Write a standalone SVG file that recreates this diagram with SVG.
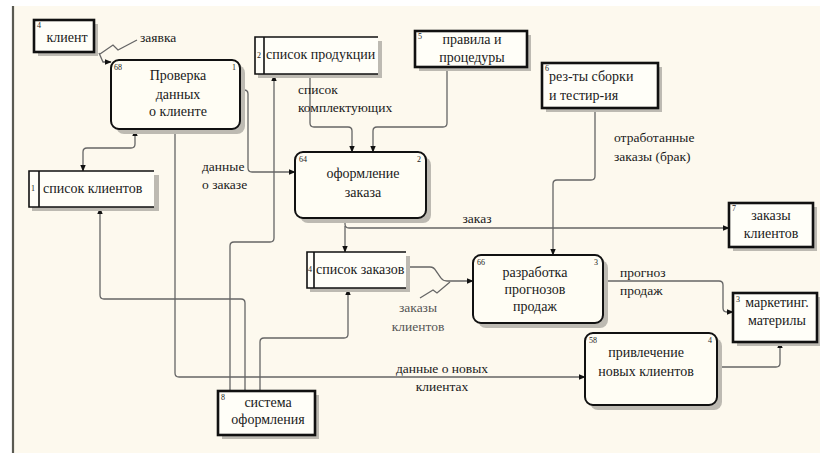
<svg xmlns="http://www.w3.org/2000/svg" width="820" height="453" viewBox="0 0 820 453">
<defs>
<marker id="ah" viewBox="0 0 10 10" refX="9" refY="5" markerWidth="7" markerHeight="7" orient="auto-start-reverse" markerUnits="userSpaceOnUse">
<path d="M0,1 L10,5 L0,9 Z" fill="#111"/>
</marker>
</defs>
<style>
.t{font-size:14px}
.c{text-anchor:middle}
.s{font-size:8px}
.lbl{font-size:13.5px}
.ext{fill:#fffef8;stroke:#111;stroke-width:2.6}
.proc{fill:#fffdf4;stroke:#111;stroke-width:2}
.sh{fill:#bdbab2}
.st{stroke:#111;stroke-width:1.6;fill:none}
.conn path{fill:none;stroke:#666;stroke-width:1.3}
.conn .a{marker-end:url(#ah)}
</style>
<rect x="0" y="0" width="820" height="453" fill="#fdf9ee"/>
<rect x="0" y="0" width="820" height="6" fill="#ffffff"/>
<rect x="0" y="0" width="12" height="453" fill="#ffffff"/>
<line x1="13" y1="6" x2="13" y2="453" stroke="#5a5a52" stroke-width="2.2"/>

<g class="conn" id="connectors">
<path d="M100,54 L113,45 L118,50 L137,40"/>
<path class="a" d="M99,53 L103,62 L111,62"/>
<path class="a" style="marker-start:url(#ah)" d="M135,130 L135,144 Q135,148 131,148 L87,148 Q83,148 83,152 L83,171"/>
<path class="a" d="M175,129 L175,373 Q175,377 179,377 L585,377"/>
<path class="a" d="M240,90 L244,90 Q248,90 248,94 L248,168 Q248,172 252,172 L295,172"/>
<path class="a" d="M245,391 L245,303 Q245,299 241,299 L104,299 Q100,299 100,295 L100,208"/>
<path class="a" d="M230,391 L230,246 Q230,242 234,242 L270,242 Q274,242 274,238 L274,75"/>
<path class="a" d="M260,391 L260,342 Q260,338 264,338 L344,338 Q348,338 348,334 L348,289"/>
<path class="a" d="M310,74 L310,123 Q310,127 314,127 L348,127 Q352,127 352,131 L352,152"/>
<path class="a" d="M447,67 L447,123 Q447,127 443,127 L377,127 Q373,127 373,131 L373,152"/>
<path class="a" d="M345,218 L345,224 Q345,228 349,228 L729,228"/>
<path class="a" d="M345,226 L345,252"/>
<path class="a" d="M595,108 L595,176 Q595,180 591,180 L557,180 Q553,180 553,184 L553,255"/>
<path class="a" d="M406,267 L430,267 Q434,267 436,271 L441,278 Q443,281 447,281 L473,281"/>
<path d="M420,298 L433,290 L437,293 L450,282"/>
<path class="a" d="M603,281 L719,281 Q723,281 723,285 L723,308 Q723,312 727,312 L733,312"/>
<path class="a" d="M717,367 L776,367 Q780,367 780,363 L780,342"/>
</g>

<g font-family="Liberation Serif, Times New Roman, serif" fill="#1a1a1a">
<g id="lbl-zayavka"><text class="lbl" x="140" y="42">заявка</text></g>
<g id="lbl-komplekt"><text class="lbl" x="298" y="94">список</text><text class="lbl" x="298" y="112">комплектующих</text></g>
<g id="lbl-dannye-zakaz"><text class="lbl" x="202" y="171">данные</text><text class="lbl" x="202" y="189">о заказе</text></g>
<g id="lbl-zakaz"><text class="lbl c" x="477" y="223">заказ</text></g>
<g id="lbl-brak"><text class="lbl" x="614" y="142">отработанные</text><text class="lbl" x="614" y="161">заказы (брак)</text></g>
<g id="lbl-zakazy-kl" fill="#555"><text class="lbl c" x="418" y="312">заказы</text><text class="lbl c" x="418" y="331">клиентов</text></g>
<g id="lbl-prognoz"><text class="lbl" x="620" y="277">прогноз</text><text class="lbl" x="620" y="295">продаж</text></g>
<g id="lbl-novye"><text class="lbl c" x="442" y="373">данные о новых</text><text class="lbl c" x="442" y="391">клиентах</text></g>

<g id="klient">
<rect class="sh" x="38" y="24" width="60" height="32"/>
<rect class="ext" x="34" y="20" width="60" height="32"/>
<text class="s" x="37" y="28">4</text>
<text class="t c" x="67" y="42">клиент</text>
</g>

<g id="proverka">
<rect class="sh" x="116" y="65" width="129" height="69" rx="8"/>
<rect class="proc" x="111" y="60" width="129" height="69" rx="8"/>
<text class="s" x="114" y="70">68</text>
<text class="s" x="232" y="70">1</text>
<text class="t c" x="178" y="80">Проверка</text>
<text class="t c" x="178" y="99">данных</text>
<text class="t c" x="178" y="116">о клиенте</text>
</g>

<g id="spisok-produkcii">
<rect class="sh" x="258" y="73" width="124" height="5"/>
<rect class="sh" x="378" y="41" width="4" height="37"/>
<rect x="255" y="37" width="123" height="37" fill="#fffef8"/>
<path class="st" d="M378,37 L255,37 L255,74 L378,74 M264,37 L264,74"/>
<text class="s" x="257" y="58">2</text>
<text class="t" x="266" y="59">список продукции</text>
</g>

<g id="pravila">
<rect class="sh" x="419" y="35" width="112" height="36"/>
<rect class="ext" x="415" y="31" width="112" height="36"/>
<text class="s" x="418" y="39">5</text>
<text class="t c" x="472" y="44">правила и</text>
<text class="t c" x="472" y="62">процедуры</text>
</g>

<g id="rezty">
<rect class="sh" x="546" y="67" width="116" height="45"/>
<rect class="ext" x="542" y="63" width="116" height="45"/>
<text class="s" x="545" y="71">6</text>
<text class="t" x="549" y="81">рез-ты сборки</text>
<text class="t" x="549" y="100">и тестир-ия</text>
</g>

<g id="spisok-klientov">
<rect class="sh" x="32" y="206" width="127" height="5"/>
<rect class="sh" x="154" y="175" width="5" height="36"/>
<rect x="29" y="171" width="125" height="36" fill="#fffef8"/>
<path class="st" d="M154,171 L29,171 L29,207 L154,207 M39,171 L39,207"/>
<text class="s" x="31" y="191">1</text>
<text class="t" x="43" y="193">список клиентов</text>
</g>

<g id="oformlenie">
<rect class="sh" x="300" y="157" width="131" height="66" rx="8"/>
<rect class="proc" x="295" y="152" width="131" height="66" rx="8"/>
<text class="s" x="299" y="162">64</text>
<text class="s" x="417" y="162">2</text>
<text class="t c" x="363" y="178">оформление</text>
<text class="t c" x="363" y="197">заказа</text>
</g>

<g id="zakazy-klientov">
<rect class="sh" x="733" y="207" width="84" height="44"/>
<rect class="ext" x="729" y="203" width="84" height="44"/>
<text class="s" x="732" y="211">7</text>
<text class="t c" x="771" y="220">заказы</text>
<text class="t c" x="771" y="238">клиентов</text>
</g>

<g id="spisok-zakazov">
<rect class="sh" x="310" y="287" width="100" height="5"/>
<rect class="sh" x="406" y="256" width="4" height="36"/>
<rect x="307" y="252" width="99" height="36" fill="#fffef8"/>
<path class="st" d="M406,252 L307,252 L307,288 L406,288 M314,252 L314,288"/>
<text class="s" x="308" y="272">4</text>
<text class="t" x="316" y="274">список заказов</text>
</g>

<g id="razrabotka">
<rect class="sh" x="478" y="260" width="130" height="68" rx="8"/>
<rect class="proc" x="473" y="255" width="130" height="68" rx="8"/>
<text class="s" x="477" y="265">66</text>
<text class="s" x="594" y="265">3</text>
<text class="t c" x="535" y="277">разработка</text>
<text class="t c" x="535" y="294">прогнозов</text>
<text class="t c" x="535" y="311">продаж</text>
</g>

<g id="marketing">
<rect class="sh" x="737" y="297" width="84" height="49"/>
<rect class="ext" x="733" y="293" width="84" height="49"/>
<text class="s" x="736" y="302">3</text>
<text class="t c" x="777" y="307">маркетинг.</text>
<text class="t c" x="777" y="325">материлы</text>
</g>

<g id="privlechenie">
<rect class="sh" x="590" y="338" width="132" height="72" rx="8"/>
<rect class="proc" x="585" y="333" width="132" height="72" rx="8"/>
<text class="s" x="589" y="343">58</text>
<text class="s" x="708" y="343">4</text>
<text class="t c" x="646" y="357">привлечение</text>
<text class="t c" x="646" y="376">новых клиентов</text>
</g>

<g id="sistema">
<rect class="sh" x="222" y="395" width="97" height="44"/>
<rect class="ext" x="218" y="391" width="97" height="44"/>
<text class="s" x="221" y="400">8</text>
<text class="t c" x="268" y="407">система</text>
<text class="t c" x="268" y="424">оформления</text>
</g>
</g>
</svg>
